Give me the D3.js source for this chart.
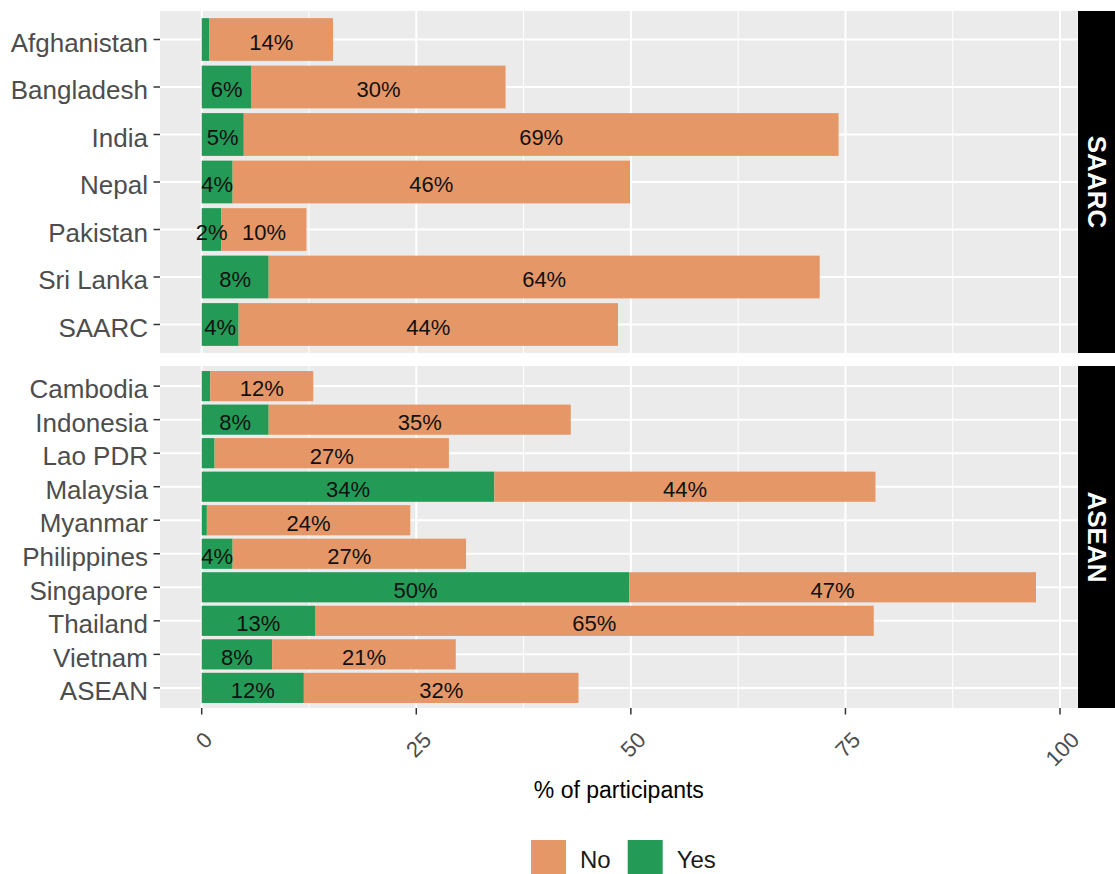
<!DOCTYPE html>
<html>
<head>
<meta charset="utf-8">
<script src="https://cdn.jsdelivr.net/npm/d3@7"></script>
<style>
  html, body { margin: 0; padding: 0; background: #fff; }
  svg { display: block; font-family: "Liberation Sans", Arial, sans-serif; }
</style>
</head>
<body>
<svg id="chart" width="1115" height="874"></svg>
<script>
// ---- data ----
const saarcCountries = ["Afghanistan", "Bangladesh", "India", "Nepal", "Pakistan", "Sri Lanka", "SAARC"];
const saarcYes = [0.9, 5.8, 4.9, 3.6, 2.3, 7.8, 4.3];
const saarcNo  = [14.4, 29.6, 69.3, 46.3, 9.9, 64.2, 44.2];

const aseanCountries = ["Cambodia", "Indonesia", "Lao PDR", "Malaysia", "Myanmar", "Philippines", "Singapore", "Thailand", "Vietnam", "ASEAN"];
const aseanYes = [1.0, 7.8, 1.5, 34.1, 0.6, 3.6, 49.8, 13.2, 8.2, 11.9];
const aseanNo  = [12.0, 35.2, 27.3, 44.4, 23.7, 27.2, 47.4, 65.1, 21.4, 32.0];

const panels = ["SAARC", "ASEAN"];
const responses = ["No", "Yes"];
const xTicks = [0, 25, 50, 75, 100];
const xMinor = [12.5, 37.5, 62.5, 87.5];
const xTitle = "% of participants";

const colors = { No: "#E59767", Yes: "#239B56" };

// ---- layout ----
const svg = d3.select("#chart");
const panelLeft = 160, panelRight = 1077.7;
const panelBoxes = [{ top: 11, bottom: 353 }, { top: 366, bottom: 708 }];
const stripLeft = 1078, stripWidth = 42;

const panelData = [
  { name: panels[0], cats: saarcCountries, yes: saarcYes, no: saarcNo },
  { name: panels[1], cats: aseanCountries, yes: aseanYes, no: aseanNo }
];

const maxTotal = d3.max(panelData.flatMap(p => p.cats.map((c, i) => p.yes[i] + p.no[i])));
const pad = 0.05 * maxTotal;
const x = d3.scaleLinear().domain([-pad, maxTotal + pad]).range([panelLeft, panelRight]);

panelData.forEach((p, pi) => {
  const box = panelBoxes[pi];
  const y = d3.scalePoint().domain(p.cats).range([box.top, box.bottom]).padding(0.6);
  const bh = y.step() * 0.9;
  const g = svg.append("g");

  // background
  g.append("rect").attr("x", panelLeft).attr("y", box.top)
    .attr("width", panelRight - panelLeft).attr("height", box.bottom - box.top)
    .attr("fill", "#EBEBEB");

  // minor vertical grid
  g.selectAll(".minor").data(xMinor).enter().append("line")
    .attr("x1", d => x(d)).attr("x2", d => x(d))
    .attr("y1", box.top).attr("y2", box.bottom)
    .attr("stroke", "#fff").attr("stroke-width", 1);
  // major vertical grid
  g.selectAll(".major").data(xTicks).enter().append("line")
    .attr("x1", d => x(d)).attr("x2", d => x(d))
    .attr("y1", box.top).attr("y2", box.bottom)
    .attr("stroke", "#fff").attr("stroke-width", 2);
  // horizontal grid
  g.selectAll(".hgrid").data(p.cats).enter().append("line")
    .attr("x1", panelLeft).attr("x2", panelRight)
    .attr("y1", d => y(d)).attr("y2", d => y(d))
    .attr("stroke", "#fff").attr("stroke-width", 2);

  // bars
  const rows = p.cats.map((c, i) => ({ cat: c, yes: p.yes[i], no: p.no[i] }));
  rows.forEach(r => {
    // Yes segment (first), then No stacked after
    g.append("rect").attr("x", x(0)).attr("y", y(r.cat) - bh / 2)
      .attr("width", x(r.yes) - x(0)).attr("height", bh).attr("fill", colors.Yes);
    g.append("rect").attr("x", x(r.yes)).attr("y", y(r.cat) - bh / 2)
      .attr("width", x(r.yes + r.no) - x(r.yes)).attr("height", bh).attr("fill", colors.No);
    // labels
    if (r.yes >= 2) {
      g.append("text").attr("x", x(r.yes / 2)).attr("y", y(r.cat)).attr("dy", "0.47em")
        .attr("text-anchor", "middle").attr("font-size", 22).attr("fill", "#111")
        .text(Math.round(r.yes) + "%");
    }
    g.append("text").attr("x", x(r.yes + r.no / 2)).attr("y", y(r.cat)).attr("dy", "0.47em")
      .attr("text-anchor", "middle").attr("font-size", 22).attr("fill", "#111")
      .text(Math.round(r.no) + "%");
  });

  // y axis ticks & labels
  g.selectAll(".ytick").data(p.cats).enter().append("line")
    .attr("x1", panelLeft - 6.5).attr("x2", panelLeft)
    .attr("y1", d => y(d)).attr("y2", d => y(d))
    .attr("stroke", "#333").attr("stroke-width", 1.5);
  g.selectAll(".ylab").data(p.cats).enter().append("text")
    .attr("x", panelLeft - 12).attr("y", d => y(d)).attr("dy", "0.47em")
    .attr("text-anchor", "end").attr("font-size", 26).attr("fill", "#4D4D4D")
    .text(d => d);

  // strip
  g.append("rect").attr("x", stripLeft).attr("y", box.top)
    .attr("width", stripWidth).attr("height", box.bottom - box.top).attr("fill", "#000");
  const cy = (box.top + box.bottom) / 2, cx = 1097;
  g.append("text").attr("transform", `translate(${cx},${cy}) rotate(90)`)
    .attr("text-anchor", "middle").attr("dy", "0.36em")
    .attr("font-size", 26).attr("font-weight", "bold").attr("fill", "#fff")
    .text(p.name);
});

// x axis ticks
const axisY = panelBoxes[1].bottom;
svg.selectAll(".xtick").data(xTicks).enter().append("line")
  .attr("x1", d => x(d)).attr("x2", d => x(d))
  .attr("y1", axisY).attr("y2", axisY + 6.5)
  .attr("stroke", "#333").attr("stroke-width", 1.5);
const xl = svg.selectAll(".xlab").data(xTicks).enter().append("text")
  .attr("text-anchor", "middle").attr("dy", "0.36em")
  .attr("font-size", 22).attr("fill", "#4D4D4D")
  .text(d => d);
xl.each(function (d) {
  const w = this.getComputedTextLength();
  const h = (w + 25) / Math.SQRT2;
  const cy = axisY + 19 + h / 2;
  d3.select(this).attr("transform", `translate(${x(d) + 2},${cy}) rotate(-45)`);
});

// x title
svg.append("text").attr("x", (panelLeft + panelRight) / 2).attr("y", 798)
  .attr("text-anchor", "middle").attr("font-size", 23).attr("fill", "#000")
  .text(xTitle);

// legend
const legend = svg.append("g");
const keySize = 35;
let lx = 531;
responses.forEach(r => {
  legend.append("rect").attr("x", lx).attr("y", 840).attr("width", keySize).attr("height", keySize)
    .attr("fill", colors[r]);
  const t = legend.append("text").attr("x", lx + keySize + 14).attr("y", 868)
    .attr("font-size", 24).attr("fill", "#1a1a1a").text(r);
  lx = lx + keySize + 14 + t.node().getComputedTextLength() + 17;
});
</script>
</body>
</html>
